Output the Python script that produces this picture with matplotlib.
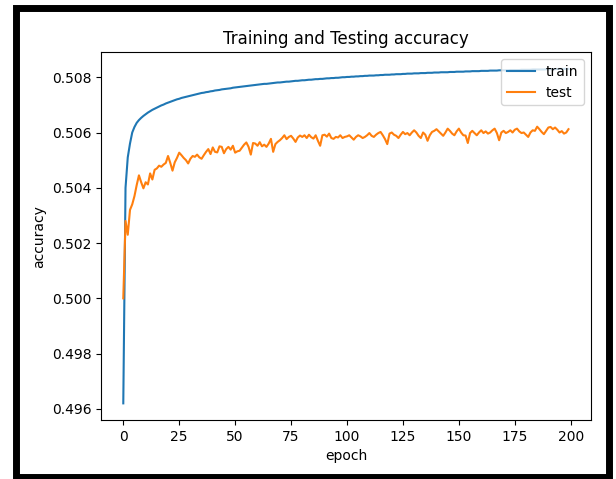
#!/usr/bin/env python3
"""
Training / testing accuracy curves per epoch
"""
import matplotlib.pyplot as plt
from matplotlib.patches import Rectangle

EPOCHS = list(range(200))

TRAIN_ACC = [
    0.49620, 0.50400, 0.50510, 0.50560, 0.50600, 0.50620, 0.50635, 0.50645, 0.50653, 0.50660,
    0.50666, 0.50672, 0.50677, 0.50682, 0.50686, 0.50690, 0.50694, 0.50698, 0.50701, 0.50705,
    0.50708, 0.50711, 0.50714, 0.50717, 0.50720, 0.50722, 0.50725, 0.50727, 0.50729, 0.50731,
    0.50733, 0.50735, 0.50737, 0.50739, 0.50741, 0.50743, 0.50744, 0.50746, 0.50747, 0.50749,
    0.50750, 0.50752, 0.50753, 0.50754, 0.50756, 0.50757, 0.50758, 0.50759, 0.50760, 0.50762,
    0.50763, 0.50764, 0.50765, 0.50766, 0.50767, 0.50768, 0.50769, 0.50770, 0.50771, 0.50772,
    0.50773, 0.50774, 0.50775, 0.50776, 0.50776, 0.50777, 0.50778, 0.50779, 0.50780, 0.50781,
    0.50781, 0.50782, 0.50783, 0.50784, 0.50784, 0.50785, 0.50786, 0.50787, 0.50787, 0.50788,
    0.50789, 0.50789, 0.50790, 0.50791, 0.50791, 0.50792, 0.50793, 0.50793, 0.50794, 0.50794,
    0.50795, 0.50796, 0.50796, 0.50797, 0.50797, 0.50798, 0.50798, 0.50799, 0.50800, 0.50800,
    0.50801, 0.50801, 0.50802, 0.50802, 0.50803, 0.50803, 0.50804, 0.50804, 0.50805, 0.50805,
    0.50806, 0.50806, 0.50806, 0.50807, 0.50807, 0.50808, 0.50808, 0.50809, 0.50809, 0.50809,
    0.50810, 0.50810, 0.50811, 0.50811, 0.50811, 0.50812, 0.50812, 0.50813, 0.50813, 0.50813,
    0.50814, 0.50814, 0.50814, 0.50815, 0.50815, 0.50815, 0.50816, 0.50816, 0.50816, 0.50817,
    0.50817, 0.50817, 0.50818, 0.50818, 0.50818, 0.50818, 0.50819, 0.50819, 0.50819, 0.50820,
    0.50820, 0.50820, 0.50820, 0.50821, 0.50821, 0.50821, 0.50822, 0.50822, 0.50822, 0.50822,
    0.50823, 0.50823, 0.50823, 0.50823, 0.50824, 0.50824, 0.50824, 0.50824, 0.50825, 0.50825,
    0.50825, 0.50825, 0.50825, 0.50826, 0.50826, 0.50826, 0.50826, 0.50826, 0.50827, 0.50827,
    0.50827, 0.50827, 0.50827, 0.50828, 0.50828, 0.50828, 0.50828, 0.50828, 0.50828, 0.50829,
    0.50829, 0.50829, 0.50829, 0.50829, 0.50830, 0.50830, 0.50830, 0.50830, 0.50830, 0.50830,
]

TEST_ACC = [
    0.50000, 0.50280, 0.50230, 0.50320, 0.50340, 0.50370, 0.50410, 0.50445, 0.50420, 0.50398,
    0.50420, 0.50412, 0.50452, 0.50430, 0.50465, 0.50470, 0.50480, 0.50476, 0.50484, 0.50490,
    0.50515, 0.50490, 0.50462, 0.50492, 0.50508, 0.50527, 0.50518, 0.50508, 0.50500, 0.50488,
    0.50505, 0.50515, 0.50512, 0.50520, 0.50510, 0.50505, 0.50518, 0.50530, 0.50540, 0.50522,
    0.50546, 0.50530, 0.50528, 0.50550, 0.50548, 0.50525, 0.50540, 0.50548, 0.50538, 0.50552,
    0.50527, 0.50532, 0.50534, 0.50545, 0.50556, 0.50564, 0.50548, 0.50520, 0.50562, 0.50560,
    0.50552, 0.50565, 0.50550, 0.50556, 0.50548, 0.50560, 0.50577, 0.50530, 0.50558, 0.50566,
    0.50572, 0.50580, 0.50590, 0.50576, 0.50584, 0.50588, 0.50578, 0.50566, 0.50582, 0.50589,
    0.50584, 0.50590, 0.50580, 0.50592, 0.50583, 0.50578, 0.50590, 0.50570, 0.50552, 0.50590,
    0.50592, 0.50585, 0.50596, 0.50580, 0.50577, 0.50584, 0.50582, 0.50590, 0.50580, 0.50584,
    0.50586, 0.50590, 0.50582, 0.50574, 0.50584, 0.50590, 0.50586, 0.50580, 0.50584, 0.50590,
    0.50598, 0.50588, 0.50584, 0.50592, 0.50598, 0.50602, 0.50590, 0.50576, 0.50558, 0.50596,
    0.50600, 0.50592, 0.50588, 0.50580, 0.50592, 0.50602, 0.50594, 0.50598, 0.50590, 0.50600,
    0.50608, 0.50600, 0.50588, 0.50580, 0.50600, 0.50592, 0.50570, 0.50590, 0.50602, 0.50606,
    0.50612, 0.50604, 0.50596, 0.50588, 0.50600, 0.50614, 0.50606, 0.50596, 0.50590, 0.50604,
    0.50614, 0.50600, 0.50590, 0.50589, 0.50562, 0.50598, 0.50606, 0.50598, 0.50590, 0.50600,
    0.50608, 0.50598, 0.50604, 0.50596, 0.50600, 0.50608, 0.50614, 0.50598, 0.50572, 0.50600,
    0.50606, 0.50598, 0.50602, 0.50608, 0.50600, 0.50610, 0.50614, 0.50604, 0.50598, 0.50600,
    0.50592, 0.50584, 0.50600, 0.50608, 0.50606, 0.50621, 0.50612, 0.50602, 0.50594, 0.50606,
    0.50618, 0.50620, 0.50612, 0.50618, 0.50610, 0.50600, 0.50605, 0.50596, 0.50600, 0.50612,
]


def plot_accuracy(output):
    fig = plt.figure(figsize=(6.16, 4.79), dpi=100)
    ax = fig.add_axes([0.164, 0.123, 0.795, 0.768])

    ax.plot(EPOCHS, TRAIN_ACC, label='train')
    ax.plot(EPOCHS, TEST_ACC, label='test')
    ax.set_title('Training and Testing accuracy')
    ax.set_ylabel('accuracy')
    ax.set_xlabel('epoch')
    ax.set_xticks(range(0, 201, 25))
    ax.legend(loc='upper right')

    # black frame around the whole screenshot
    fig.patches.append(Rectangle((0.0252, 0.0042), 0.9634, 0.9791, fill=False,
                                 lw=5, ec='black', transform=fig.transFigure))

    fig.savefig(output, dpi=100)
    plt.close(fig)


if __name__ == '__main__':
    plot_accuracy('out.png')
